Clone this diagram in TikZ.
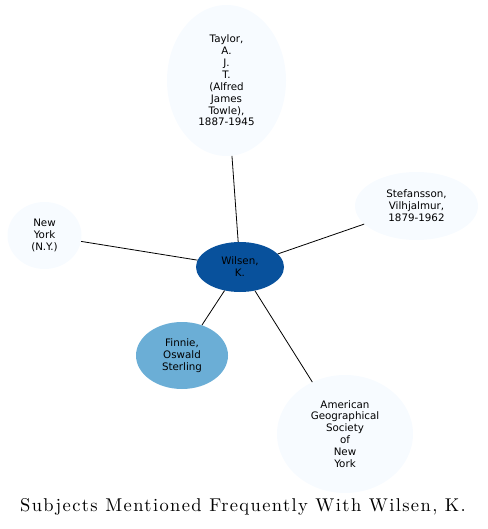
\documentclass[tikz,border=0pt]{standalone}
\usepackage{fontspec}
\usepackage{tikz}
\usetikzlibrary{shapes.geometric, positioning}
\newfontfamily\labelfont{DejaVu Sans}
\newfontfamily\titlefont{lmroman10-regular}[Extension=.otf]
\definecolor{focusblue}{HTML}{08519C}
\definecolor{midblue}{HTML}{6BAED6}
\definecolor{paleblue}{HTML}{F7FBFF}

\begin{document}
\begin{tikzpicture}[x=1pt, y=-1pt]
\tikzstyle{subject} = [ellipse, inner sep=0pt, align=center, text=black, fill=paleblue, font=\labelfont\fontsize{10.3}{11.9}\selectfont]
\tikzstyle{focus} = [subject, fill=focusblue]
\tikzstyle{near} = [subject, fill=midblue]

\useasboundingbox (0,0) rectangle (487,529);

\node (wilsen) [focus, minimum width=88pt, minimum height=50pt] at (240,267) {Wilsen,\\K.};
\node (taylor) [subject, minimum width=119pt, minimum height=151pt] at (226.5,80.5) {Taylor,\\A.\\J.\\T.\\(Alfred\\James\\Towle),\\1887-1945};
\node (stefansson) [subject, minimum width=123pt, minimum height=68pt] at (416.5,206) {Stefansson,\\Vilhjalmur,\\1879-1962};
\node (newyork) [subject, minimum width=74pt, minimum height=67pt] at (44.5,235.5) {New\\York\\(N.Y.)};
\node (finnie) [near, minimum width=92pt, minimum height=67pt] at (182,355.5) {Finnie,\\Oswald\\Sterling};
\node (amgeo) [subject, minimum width=136pt, minimum height=118pt] at (345,434) {American\\Geographical\\Society\\of\\New\\York};

\draw[-, line width=0.8pt] (wilsen) -- (taylor);
\draw[-, line width=0.8pt] (wilsen) -- (stefansson);
\draw[-, line width=0.8pt] (wilsen) -- (newyork);
\draw[-, line width=0.8pt] (wilsen) -- (finnie);
\draw[-, line width=0.8pt] (wilsen) -- (amgeo);

\node (title) [anchor=base] at (243,511) {\titlefont\fontsize{18.5}{21}\selectfont\addfontfeature{LetterSpace=7.5}Subjects Mentioned Frequently With Wilsen, K.};

\end{tikzpicture}
\end{document}
